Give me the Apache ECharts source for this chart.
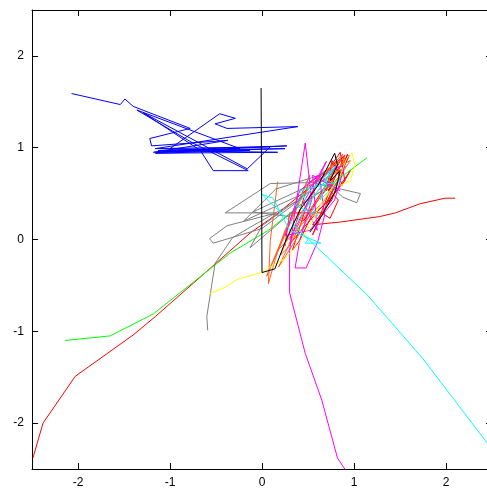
<!DOCTYPE html>
<html>
<head>
<meta charset="utf-8">
<script src="https://cdn.jsdelivr.net/npm/echarts@6/dist/echarts.min.js"></script>
<style>html,body{margin:0;padding:0;background:#fff;}#c{width:487px;height:489px;}</style>
</head>
<body>
<div id="c"></div>
<script>
const xTicks = [-2, -1, 0, 1, 2];
const yTicks = [-2, -1, 0, 1, 2];

const redA = [[-2.49,-2.38],[-2.38,-2.00],[-2.03,-1.49],[-1.40,-1.04],[-1.16,-0.84],[-0.49,-0.25],[-0.13,0.07],[0.14,0.26],[0.41,0.48],[0.63,0.66],[0.79,0.81],[0.90,0.92],[0.83,0.75],[0.72,0.53],[0.85,0.70],[0.76,0.43],[0.55,0.16],[0.85,0.19],[1.28,0.25],[1.45,0.29],[1.72,0.39],[1.99,0.45],[2.10,0.45]];
const green = [[-2.14,-1.10],[-1.65,-1.05],[-1.18,-0.81],[-0.35,-0.15],[0.07,0.10],[0.41,0.37],[0.74,0.59],[1.14,0.89]];
const blue = [[-2.07,1.59],[-1.54,1.47],[-1.49,1.53],[-1.40,1.45],[-0.78,1.21],[-1.22,1.10],[-1.20,1.02],[-0.37,1.08],[-1.18,0.95],[0.27,1.02],[-1.11,0.97],[0.17,0.95],[-1.16,0.94],[-0.13,0.97],[-1.00,0.99],[-0.46,1.37],[-0.29,1.32],[-0.51,1.26],[-0.38,1.21],[0.39,1.23],[-1.16,0.99],[0.09,1.01],[-0.16,0.77],[-1.29,1.38],[-0.67,0.97],[-0.53,0.75],[-0.15,0.75],[-0.75,1.05],[-1.36,1.41],[-0.24,0.99],[-1.15,0.95],[0.25,0.99],[-1.13,0.97]];
const magenta = [[0.94,-2.56],[0.82,-2.38],[0.65,-1.75],[0.47,-1.24],[0.30,-0.58],[0.30,-0.12],[0.36,0.32],[0.47,1.05],[0.54,0.43],[0.41,-0.01],[0.36,-0.31],[0.48,-0.31],[0.61,-0.01],[0.68,0.26],[0.63,0.64],[0.74,0.75],[0.90,0.81],[0.79,0.43],[0.52,0.10],[0.25,0.04],[0.41,0.53],[0.61,0.70],[0.85,0.53],[0.55,0.70],[0.60,0.10],[0.45,0.40],[0.70,0.85],[0.40,0.20],[0.30,0.00]];
const cyan = [[0.74,0.75],[0.63,0.43],[0.85,0.64],[0.41,0.53],[0.61,0.26],[0.36,0.37],[0.80,0.80],[0.55,0.45],[0.35,0.15],[0.50,0.00],[0.47,-0.04],[0.64,-0.04],[0.30,0.10],[0.12,0.45],[0.00,0.49],[0.55,-0.04],[1.15,-0.61],[1.75,-1.30],[2.45,-2.22],[2.60,-2.42]];
const yellow = [[-0.57,-0.59],[-0.40,-0.52],[-0.26,-0.43],[0.00,-0.36],[0.12,-0.28],[0.25,-0.21],[0.41,-0.03],[0.52,0.15],[0.63,0.37],[0.74,0.53],[0.85,0.70],[0.92,0.88],[0.98,0.94],[1.01,0.81],[0.96,0.64],[0.85,0.59]];
const black = [[-0.01,1.65],[0.00,-0.36],[0.14,-0.32],[0.25,-0.03],[0.41,0.32],[0.61,0.59],[0.79,0.94],[0.82,0.81],[0.74,0.64],[0.85,0.75],[0.80,0.53],[0.65,0.26],[0.52,0.08]];
const orange = [[0.17,0.63],[0.09,-0.01],[0.07,-0.48],[0.14,-0.23],[0.25,0.10],[0.41,0.43],[0.63,0.70],[0.85,0.86],[0.90,0.89],[0.74,0.59],[0.47,0.26],[0.30,-0.07],[0.20,-0.17],[0.36,0.21],[0.61,0.53],[0.79,0.77],[0.96,0.86],[0.68,0.43],[0.17,-0.12],[0.52,0.70],[0.30,0.20],[0.05,-0.40],[0.45,0.50],[0.88,0.93],[0.40,0.05],[0.18,-0.30],[0.60,0.60],[0.92,0.80]];
const gray = [[-0.59,-0.99],[-0.60,-0.84],[-0.51,-0.26],[-0.32,0.02],[-0.10,0.15],[0.20,0.32],[0.41,0.43],[0.00,0.12],[-0.53,-0.04],[-0.57,0.01],[-0.38,0.15],[0.16,0.29],[-0.40,0.29],[0.09,0.61],[0.55,0.62],[1.07,0.50],[1.03,0.40],[0.88,0.46],[0.74,0.59],[0.41,0.37],[-0.13,-0.09],[0.00,0.15],[0.52,0.53],[0.79,0.75],[0.15,0.55],[-0.20,0.20],[0.45,0.50],[0.30,0.25],[-0.10,0.30],[0.65,0.65]];
const redB = [[0.25,-0.07],[0.30,0.29],[0.65,0.29],[0.74,0.23],[0.83,0.43],[0.68,0.59],[0.90,0.86],[0.93,0.93],[0.85,0.70],[0.76,0.86],[0.70,0.53],[0.80,0.81],[0.87,0.59],[0.96,0.75],[0.74,0.43],[0.54,0.26],[0.41,-0.01],[0.33,-0.12],[0.52,0.48],[0.68,0.70],[0.85,0.95],[0.90,0.64],[0.77,0.48],[0.60,0.30],[0.30,-0.05],[0.50,0.60],[0.88,0.90],[0.45,0.20],[0.80,0.70],[0.55,0.05],[0.95,0.92],[0.70,0.40]];

const seriesList = [
  {data: redA, color: '#ff0000'},
  {data: redB, color: '#ff0000'},
  {data: green, color: '#00ff00'},
  {data: blue, color: '#0000ff'},
  {data: orange, color: '#ff6020'},
  {data: gray, color: '#808080'},
  {data: magenta, color: '#ff00ff'},
  {data: cyan, color: '#00ffff'},
  {data: yellow, color: '#ffff00'},
  {data: black, color: '#000000'}
];

const chart = echarts.init(document.getElementById('c'), null, {renderer: 'canvas'});
const font = {fontFamily: 'Liberation Sans, Arial, sans-serif', fontSize: 12, color: '#000'};
function axisCommon(vals, showLabel, pos) {
  return {
    type: 'value', min: -2.5, max: 2.5, position: pos,
    axisLine: {show: true, onZero: false, lineStyle: {color: '#000', width: 1}},
    axisTick: {show: true, inside: true, length: 6, customValues: vals, lineStyle: {color: '#000'}},
    axisLabel: Object.assign({show: showLabel, customValues: vals, margin: 8}, font),
    splitLine: {show: false}
  };
}
chart.setOption({
  animation: false,
  backgroundColor: '#fff',
  grid: {left: 32, width: 460, top: 10, height: 459, containLabel: false, outerBoundsMode: 'none'},
  xAxis: [axisCommon(xTicks, true, 'bottom'), axisCommon(xTicks, false, 'top')],
  yAxis: [axisCommon(yTicks, true, 'left'), axisCommon(yTicks, false, 'right')],
  series: seriesList.map(s => ({
    type: 'line', data: s.data, showSymbol: false, symbol: 'none', clip: true,
    xAxisIndex: 0, yAxisIndex: 0,
    lineStyle: {color: s.color, width: 1}, itemStyle: {color: s.color}
  }))
});
</script>
</body>
</html>
